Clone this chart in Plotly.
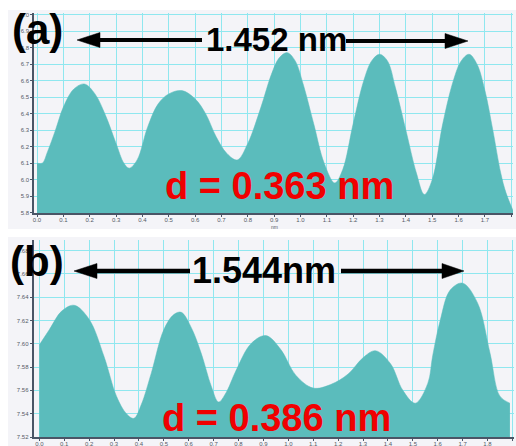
import plotly.graph_objects as go

W, H = 516, 446

# ---------------- data: panel (a) ----------------
a_x = [0.00, 0.02, 0.04, 0.07, 0.10, 0.14, 0.18, 0.22, 0.26, 0.30, 0.33, 0.35, 0.38,
       0.42, 0.46, 0.50, 0.55, 0.60, 0.64, 0.68, 0.72, 0.76, 0.80, 0.85, 0.89, 0.92,
       0.95, 0.98, 1.01, 1.05, 1.09, 1.13, 1.16, 1.20, 1.24, 1.27, 1.30, 1.33, 1.36,
       1.40, 1.44, 1.47, 1.50, 1.54, 1.58, 1.61, 1.64, 1.67, 1.70, 1.73, 1.76, 1.78, 1.81]
a_y = [6.10, 6.10, 6.17, 6.30, 6.44, 6.55, 6.58, 6.52, 6.39, 6.22, 6.10, 6.07, 6.12,
       6.32, 6.46, 6.52, 6.54, 6.49, 6.40, 6.26, 6.16, 6.12, 6.22, 6.44, 6.64, 6.74,
       6.77, 6.72, 6.58, 6.34, 6.10, 5.98, 6.06, 6.34, 6.60, 6.72, 6.76, 6.72, 6.56,
       6.30, 6.04, 5.91, 6.00, 6.34, 6.60, 6.72, 6.76, 6.70, 6.54, 6.30, 6.04, 5.92, 5.80]

# ---------------- data: panel (b) ----------------
b_x = [0.00, 0.04, 0.09, 0.14, 0.20, 0.26, 0.31, 0.35, 0.38, 0.41, 0.45, 0.50, 0.54,
       0.57, 0.61, 0.65, 0.69, 0.72, 0.75, 0.79, 0.85, 0.91, 0.97, 1.03, 1.10, 1.17,
       1.24, 1.30, 1.35, 1.41, 1.46, 1.51, 1.56, 1.58, 1.61, 1.65, 1.70, 1.76, 1.81,
       1.85, 1.89]
b_y = [7.599, 7.612, 7.628, 7.633, 7.621, 7.589, 7.555, 7.540, 7.536, 7.548, 7.575,
       7.612, 7.625, 7.627, 7.614, 7.592, 7.564, 7.550, 7.558, 7.577, 7.600, 7.607,
       7.595, 7.573, 7.562, 7.565, 7.574, 7.588, 7.594, 7.583, 7.560, 7.549, 7.566,
       7.590, 7.620, 7.646, 7.652, 7.635, 7.592, 7.555, 7.549]

# tick values / labels
a_xticks = [round(0.1 * i, 1) for i in range(19)]
a_yticks = [5.8, 5.9, 6.0, 6.1, 6.2, 6.3, 6.4, 6.5, 6.6, 6.7, 6.8, 6.9, 7.0]
b_xticks = [round(0.1 * i, 1) for i in range(20)]
b_yticks = [7.52, 7.54, 7.56, 7.58, 7.60, 7.62, 7.64, 7.66, 7.68]

labels = ["(a)", "(b)"]
span_text = ["1.452 nm", "1.544nm"]
d_text = ["d = 0.363 nm", "d = 0.386 nm"]

FILL = "#5bbcbc"
GRID = "#8fe7ef"
AXC = "#4a5566"
TICKF = dict(family="Liberation Sans, Arial", size=6, color="#555b66")
BOLD = "Liberation Sans, Arial"


def px(x):
    return x / W


def py(y):
    return 1 - y / H


fig = go.Figure()
fig.add_trace(go.Scatter(x=a_x, y=a_y, mode="lines", line=dict(color=FILL, width=0.5, shape="spline"),
                         fill="tozeroy", fillcolor=FILL, xaxis="x", yaxis="y", hoverinfo="skip"))
fig.add_trace(go.Scatter(x=b_x, y=b_y, mode="lines", line=dict(color=FILL, width=0.5, shape="spline"),
                         fill="tozeroy", fillcolor=FILL, xaxis="x2", yaxis="y2", hoverinfo="skip"))

axis_common = dict(showline=True, linecolor=AXC, linewidth=1.5, ticks="outside", ticklen=2,
                   tickcolor=AXC, tickwidth=1, gridcolor=GRID, gridwidth=1.3, zeroline=False,
                   tickfont=TICKF, fixedrange=True, automargin=False)

fig.update_layout(
    width=W, height=H, margin=dict(l=0, r=0, t=0, b=0, autoexpand=False),
    paper_bgcolor="white", plot_bgcolor="white", showlegend=False,
    xaxis=dict(domain=[px(34), px(513)], range=[-0.0114, 1.8065], anchor="y", ticklabelstandoff=-2,
               tickvals=a_xticks, ticktext=[f"{v:.1f}" for v in a_xticks], **axis_common),
    yaxis=dict(domain=[py(213), py(13)], range=[5.798, 7.0103], anchor="x",
               tickvals=a_yticks, ticktext=[f"{v:.1f}" for v in a_yticks], **axis_common),
    xaxis2=dict(domain=[px(33.5), px(514)], range=[-0.0233, 1.9064], anchor="y2", ticklabelstandoff=-2,
                tickvals=b_xticks, ticktext=[f"{v:.1f}" for v in b_xticks], **axis_common),
    yaxis2=dict(domain=[py(437), py(240)], range=[7.52, 7.689], anchor="x2",
                tickvals=b_yticks, ticktext=[f"{v:.2f}" for v in b_yticks], **axis_common),
)

shapes = []
# light grey backgrounds behind each panel
shapes.append(dict(type="rect", xref="paper", yref="paper", x0=px(8), x1=1, y0=py(229), y1=py(10),
                   fillcolor="#f4f4f8", line=dict(width=0), layer="below"))
shapes.append(dict(type="rect", xref="paper", yref="paper", x0=px(8), x1=1, y0=0, y1=py(237),
                   fillcolor="#f4f4f8", line=dict(width=0), layer="below"))


def hline(x0, x1, y, w):
    shapes.append(dict(type="line", xref="paper", yref="paper", x0=px(x0), x1=px(x1),
                       y0=py(y), y1=py(y), line=dict(color="black", width=w), layer="above"))


def head(tip_x, base_x, y, half):
    path = (f"M {px(tip_x)},{py(y)} L {px(base_x)},{py(y - half)} "
            f"L {px(base_x)},{py(y + half)} Z")
    shapes.append(dict(type="path", xref="paper", yref="paper", path=path,
                       fillcolor="black", line=dict(color="black", width=0.5), layer="above"))


# panel (a) arrows
hline(98, 202, 40, 4)
head(77, 100, 40, 7.5)
hline(346, 447, 41, 4)
head(468, 445, 41, 7.5)
# panel (b) arrows
hline(94, 190, 271, 4.5)
head(74, 97, 271, 7.5)
hline(341, 444, 271, 4.5)
head(464, 442, 271, 7.5)

fig.update_layout(shapes=shapes)

ann = []


def text(x, y, s, size, color="black", bold=True):
    ann.append(dict(xref="paper", yref="paper", x=px(x), y=py(y), xanchor="center", yanchor="middle",
                    text=f"<b>{s}</b>" if bold else s, showarrow=False,
                    font=dict(family=BOLD, size=size, color=color)))


text(37, 30, labels[0], 42)
text(37, 261, labels[1], 42)
text(276, 39, span_text[0], 33)
text(264, 270, span_text[1], 36)
text(279, 186, d_text[0], 38, color="#f00000")
text(276, 418, d_text[1], 38, color="#f00000")
text(274, 227, "nm", 5, color="#555b66", bold=False)

fig.update_layout(annotations=ann)

fig.write_html("out.html", config={"displayModeBar": False},
               post_script="document.body.style.margin='0px';document.body.style.overflow='hidden';")
